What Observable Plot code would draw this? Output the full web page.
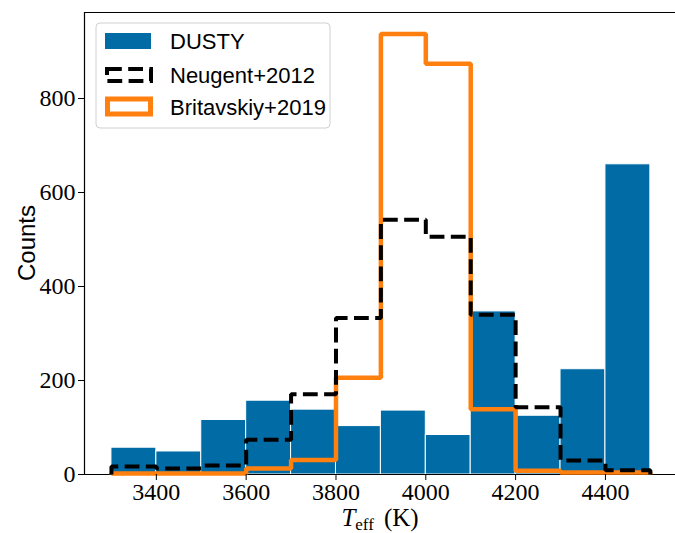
<!DOCTYPE html>
<html>
<head>
<meta charset="utf-8">
<script src="https://cdn.jsdelivr.net/npm/d3@7"></script>
<script src="https://cdn.jsdelivr.net/npm/@observablehq/plot@0.6"></script>
<style>
  html, body { margin: 0; padding: 0; background: #fff; }
  #chart { width: 675px; height: 533px; overflow: hidden; }
</style>
</head>
<body>
<div id="chart"></div>
<script>
// bin edges (K)
const binStarts = [3300, 3400, 3500, 3600, 3700, 3800, 3900, 4000, 4100, 4200, 4300, 4400];
const binWidth = 100;
// series counts
const dusty      = [57, 49, 116, 157, 138, 103, 136, 84, 347, 125, 224, 660];
const neugent    = [17, 13, 19, 74, 171, 333, 542, 506, 340, 143, 30, 9];
const britavskiy = [2, 2, 2, 13, 31, 206, 937, 874, 139, 8, 4, 4];
// tick labels
const xTicks = [3400, 3600, 3800, 4000, 4200, 4400];
const yTicks = [0, 200, 400, 600, 800];
const seriesNames = ["DUSTY", "Neugent+2012", "Britavskiy+2019"];
const colors = {blue: "#006BA4", orange: "#FF800E", black: "#000"};

const xDomain = [3240, 4556];
const yDomain = [0, 983];

const bars = binStarts.map((s, i) => ({x1: s, x2: s + binWidth, y: dusty[i]}));
function outline(vals) {
  const pts = [{x: binStarts[0], y: 0}];
  vals.forEach((v, i) => {
    pts.push({x: binStarts[i], y: v});
    pts.push({x: binStarts[i] + binWidth, y: v});
  });
  pts.push({x: binStarts[binStarts.length - 1] + binWidth, y: 0});
  return pts;
}

const tickFont = "'Liberation Serif', serif";
const sansFont = "'Liberation Sans', Arial, sans-serif";

const plot = Plot.plot({
  width: 675,
  height: 533,
  marginLeft: 84,
  marginRight: 0,
  marginTop: 12,
  marginBottom: 59,
  style: {fontFamily: tickFont, fontSize: "24px", color: "#000", background: "#fff"},
  x: {domain: xDomain, label: null},
  y: {domain: yDomain, label: null},
  marks: [
    Plot.rectY(bars, {x1: "x1", x2: "x2", y: "y", fill: colors.blue, stroke: "#fff", strokeWidth: 1}),
    Plot.ruleY([0], {stroke: "#000", strokeWidth: 1}),
    Plot.ruleY([yDomain[1]], {stroke: "#000", strokeWidth: 1.2}),
    Plot.ruleX([xDomain[0]], {stroke: "#000", strokeWidth: 1.2}),
    Plot.line(outline(britavskiy), {x: "x", y: "y", stroke: colors.orange, strokeWidth: 4.5, strokeLinejoin: "miter", strokeLinecap: "butt"}),
    Plot.line(outline(neugent), {x: "x", y: "y", stroke: colors.black, strokeWidth: 4, strokeDasharray: "14.8,6.4", strokeLinejoin: "miter", strokeLinecap: "butt"}),
    Plot.axisX({ticks: xTicks, tickFormat: d => String(d), tickSize: 6, tickPadding: 2, label: null, fontSize: 24}),
    Plot.axisY({ticks: yTicks, tickFormat: d => String(d), tickSize: 6, tickPadding: 3, label: null, fontSize: 24})
  ]
});
document.getElementById("chart").appendChild(plot);

const svg = d3.select(plot);
// enforce tick label font
svg.selectAll("g[aria-label='x-axis tick label'], g[aria-label='y-axis tick label']")
  .attr("font-size", 24).style("font-size", "24px").attr("font-family", tickFont).attr("fill", "#000");
svg.selectAll("g[aria-label='x-axis tick label'] text, g[aria-label='y-axis tick label'] text")
  .style("font-size", "24px");

// y label
svg.append("text")
  .attr("transform", "translate(35,243) rotate(-90)")
  .attr("text-anchor", "middle")
  .attr("font-family", sansFont)
  .attr("font-size", 24)
  .attr("fill", "#000")
  .text("Counts");
// x label
const xl = svg.append("text")
  .attr("x", 380).attr("y", 526)
  .attr("text-anchor", "middle")
  .attr("font-family", tickFont)
  .attr("font-size", 25)
  .attr("fill", "#000");
xl.append("tspan").attr("font-style", "italic").text("T");
xl.append("tspan").attr("font-size", 17).attr("dy", 4).text("eff");
xl.append("tspan").attr("dy", -4).text("\u2009\u2009(K)");

// legend
const lg = svg.append("g").attr("text-anchor", "start");
lg.append("rect").attr("x", 96).attr("y", 23).attr("width", 234).attr("height", 105)
  .attr("rx", 4).attr("fill", "#fff").attr("fill-opacity", 0.8).attr("stroke", "#d0d0d0").attr("stroke-width", 1);
lg.append("rect").attr("x", 105).attr("y", 33).attr("width", 46).attr("height", 16).attr("fill", colors.blue);
lg.append("rect").attr("x", 107).attr("y", 69).attr("width", 44).attr("height", 12)
  .attr("fill", "none").attr("stroke", "#000").attr("stroke-width", 4).attr("stroke-dasharray", "14.8,6.4");
lg.append("rect").attr("x", 107.5).attr("y", 99).attr("width", 43).attr("height", 15)
  .attr("fill", "#fff").attr("stroke", colors.orange).attr("stroke-width", 5);
const rowsY = [41, 75, 107];
seriesNames.forEach((name, i) => {
  lg.append("text").attr("x", 170).attr("y", rowsY[i] + 8)
    .attr("text-anchor", "start")
    .attr("font-family", sansFont).attr("font-size", 22).attr("fill", "#000")
    .text(name);
});
</script>
</body>
</html>
